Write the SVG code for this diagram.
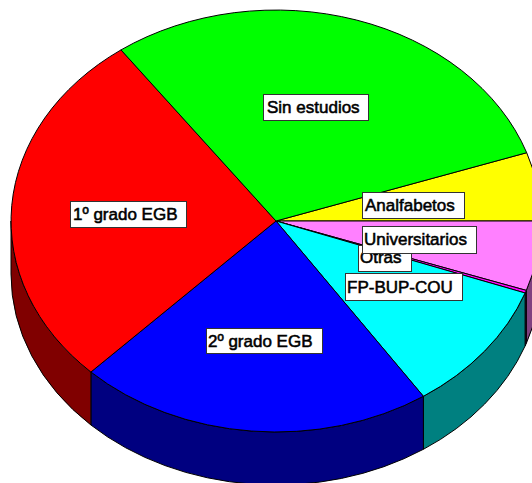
<svg xmlns="http://www.w3.org/2000/svg" width="532" height="483" viewBox="0 0 532 483">
<style>
.e{stroke:#000;stroke-width:1;stroke-linejoin:round}
.lb rect{fill:#fff;stroke:#333;stroke-width:1}
.lb text{font-family:"Liberation Sans",Arial,sans-serif;font-size:17px;fill:#000;stroke:#000;stroke-width:0.55}
</style>
<rect width="532" height="483" fill="#fff"/>
<g id="sides">
<path class="e" fill="#804080" d="M541,221 A265,211 0 0 1 526.3,290.4 L526.3,343.4 A265,211 0 0 0 541,274 Z"/>
<path class="e" fill="#800080" d="M526.3,290.4 A265,211 0 0 1 525.1,293 L525.1,346 A265,211 0 0 0 526.3,343.4 Z"/>
<path class="e" fill="#008080" d="M525.1,293 A265,211 0 0 1 423.4,396.3 L423.4,449.3 A265,211 0 0 0 525.1,346 Z"/>
<path class="e" fill="#000080" d="M423.4,396.3 A265,211 0 0 1 90.9,372 L90.9,425 A265,211 0 0 0 423.4,449.3 Z"/>
<path class="e" fill="#800000" d="M90.9,372 A265,211 0 0 1 11,221 L11,274 A265,211 0 0 0 90.9,425 Z"/>
</g>
<g id="analfabetos"><path class="e" fill="#ffff00" d="M276,221 L526.7,152.7 A265,211 0 0 1 541,221 Z"/></g>
<g id="universitarios"><path class="e" fill="#ff80ff" d="M276,221 L541,221 A265,211 0 0 1 526.3,290.4 Z"/></g>
<g id="otras"><path class="e" fill="#ff00ff" d="M276,221 L526.3,290.4 A265,211 0 0 1 525.1,293 Z"/></g>
<g id="fp-bup-cou"><path class="e" fill="#00ffff" d="M276,221 L525.1,293 A265,211 0 0 1 423.4,396.3 Z"/></g>
<g id="grado2"><path class="e" fill="#0000ff" d="M276,221 L423.4,396.3 A265,211 0 0 1 90.9,372 Z"/></g>
<g id="grado1"><path class="e" fill="#ff0000" d="M276,221 L90.9,372 A265,211 0 0 1 121,49.9 Z"/></g>
<g id="sin-estudios"><path class="e" fill="#00ff00" d="M276,221 L121,49.9 A265,211 0 0 1 526.7,152.7 Z"/></g>
<g id="labels">
<g class="lb" id="lbl-sin"><rect x="263.5" y="94.5" width="105" height="26"/><text x="267" y="113">Sin estudios</text></g>
<g class="lb" id="lbl-g1"><rect x="70.5" y="201.5" width="116" height="26"/><text x="73" y="220">1º grado EGB</text></g>
<g class="lb" id="lbl-g2"><rect x="206.5" y="328.5" width="116" height="25"/><text x="208" y="347">2º grado EGB</text></g>
<g class="lb" id="lbl-an"><rect x="362.5" y="192.5" width="102" height="26"/><text x="365" y="211">Analfabetos</text></g>
<g class="lb" id="lbl-ot"><rect x="358.5" y="245.5" width="53" height="26"/><text x="360" y="263">Otras</text></g>
<g class="lb" id="lbl-un"><rect x="362.5" y="226.5" width="114" height="27"/><text x="364" y="245">Universitarios</text></g>
<g class="lb" id="lbl-fp"><rect x="345.5" y="273.5" width="117" height="27"/><text x="347" y="293">FP-BUP-COU</text></g>
</g>
</svg>
